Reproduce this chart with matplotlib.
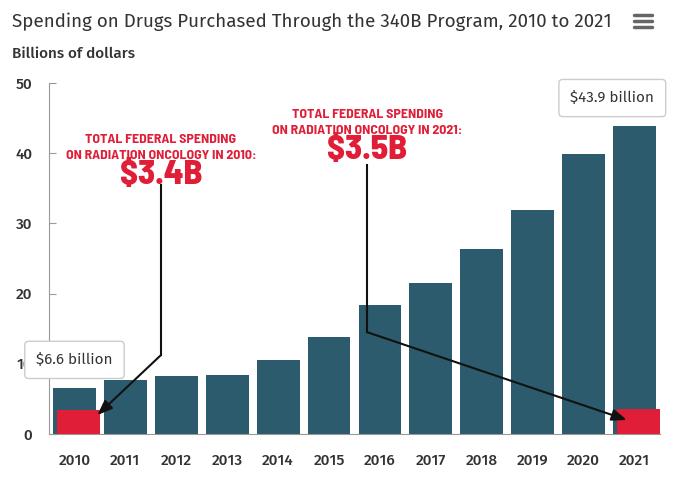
"""
340B program spending bar chart with radiation oncology call-outs
"""
import matplotlib
matplotlib.use('Agg')
import matplotlib.pyplot as plt
import matplotlib.patches as mpatches
import numpy as np

years = ['2010', '2011', '2012', '2013', '2014', '2015', '2016',
         '2017', '2018', '2019', '2020', '2021']
spending_340b = [6.6, 7.7, 8.2, 8.4, 10.6, 13.8, 18.4, 21.5, 26.4, 31.9, 39.9, 43.9]
rad_onc_years = [0, 11]
rad_onc_values = [3.4, 3.5]
rad_onc_labels = ['$3.4B', '$3.5B']
tooltip_idx = [0, 11]

BAR_COLOR = '#2b5b6c'
RED = '#e01e37'
TEXT = '#333333'

plt.rcParams['font.family'] = ['Fira Sans', 'Open Sans', 'DejaVu Sans']
narrow = ['Barlow Semi Condensed', 'Barlow Condensed', 'DejaVu Sans']

fig = plt.figure(figsize=(6.8, 4.94), dpi=100)
ax = fig.add_axes([49 / 680, 60 / 494, 611 / 680, 351 / 494])

x = np.arange(len(years))
ax.bar(x, spending_340b, width=0.84, color=BAR_COLOR, zorder=2)
ax.bar(np.array(rad_onc_years) + 0.08, rad_onc_values, width=0.84, color=RED, zorder=3)

ax.set_xlim(-0.5, len(years) - 0.5)
ax.set_ylim(0, 50)
ax.set_yticks([0, 10, 20, 30, 40, 50])
ax.set_xticks(x)
ax.set_xticklabels(years)
for s in ['top', 'right']:
    ax.spines[s].set_visible(False)
ax.spines['left'].set_color('#999999')
ax.spines['bottom'].set_color('#999999')
ax.tick_params(axis='y', direction='in', length=5, color='#999999', pad=12,
               labelsize=11, labelcolor=TEXT)
ax.tick_params(axis='x', length=0, pad=14, labelsize=11, labelcolor=TEXT)
for lbl in ax.get_xticklabels() + ax.get_yticklabels():
    lbl.set_fontweight('medium')

# tooltips (the last one is pushed left to stay inside the chart)
shifts = {0: 0, 11: -16}
for i in tooltip_idx:
    v = spending_340b[i]
    ax.annotate('${:.1f} billion'.format(v), xy=(i, v), xytext=(shifts[i], 20),
                textcoords='offset points', ha='center', va='center',
                fontsize=11, color=TEXT, zorder=6,
                bbox=dict(boxstyle='round,pad=0.75,rounding_size=0.25',
                          fc='white', ec='#cccccc', lw=1))
    tri = mpatches.Polygon([[i - 0.12, v + 1.1], [i + 0.12, v + 1.1], [i, v + 0.3]],
                           closed=True, fc='white', ec='none', zorder=7)
    ax.add_patch(tri)

# radiation oncology call-outs
callouts = [
    dict(tx=1.70, ty=37.2, top=35.5, bend=11.25, tip=(0.45, 2.7),
         line1='TOTAL FEDERAL SPENDING', line2='ON RADIATION ONCOLOGY IN 2010:'),
    dict(tx=5.75, ty=40.8, top=38.3, bend=14.5, tip=(10.85, 2.0),
         line1='TOTAL FEDERAL SPENDING', line2='ON RADIATION ONCOLOGY IN 2021:'),
]
for c, big in zip(callouts, rad_onc_labels):
    ax.text(c['tx'], c['ty'] + 4.7, c['line1'], ha='center', va='center',
            color=RED, fontsize=10, fontweight='bold', family=narrow, zorder=5)
    ax.text(c['tx'], c['ty'] + 2.5, c['line2'], ha='center', va='center',
            color=RED, fontsize=10, fontweight='bold', family=narrow, zorder=5)
    ax.text(c['tx'], c['ty'] - 0.3, big, ha='center', va='center',
            color=RED, fontsize=25, fontweight='heavy', family=narrow, zorder=5)
    ax.plot([c['tx'], c['tx']], [c['top'], c['bend']], color='#111111', lw=1.5, zorder=5)
    ax.annotate('', xy=c['tip'], xytext=(c['tx'], c['bend']),
                arrowprops=dict(arrowstyle='-|>,head_length=0.9,head_width=0.35',
                                color='#111111', lw=1.5, shrinkA=0, shrinkB=0),
                zorder=5)

fig.text(12 / 680, 1 - 22 / 494, 'Spending on Drugs Purchased Through the 340B Program, 2010 to 2021',
         ha='left', va='center', fontsize=13.5, color=TEXT)
fig.text(12 / 680, 1 - 54 / 494, 'Billions of dollars', ha='left', va='center',
         fontsize=11, fontweight='medium', color=TEXT)

# menu icon
for yy in [15, 21, 27]:
    fig.add_artist(plt.Line2D([634 / 680, 652 / 680], [1 - yy / 494, 1 - yy / 494],
                              color='#666666', lw=2.5, solid_capstyle='round'))

fig.savefig('out.png', dpi=100)
